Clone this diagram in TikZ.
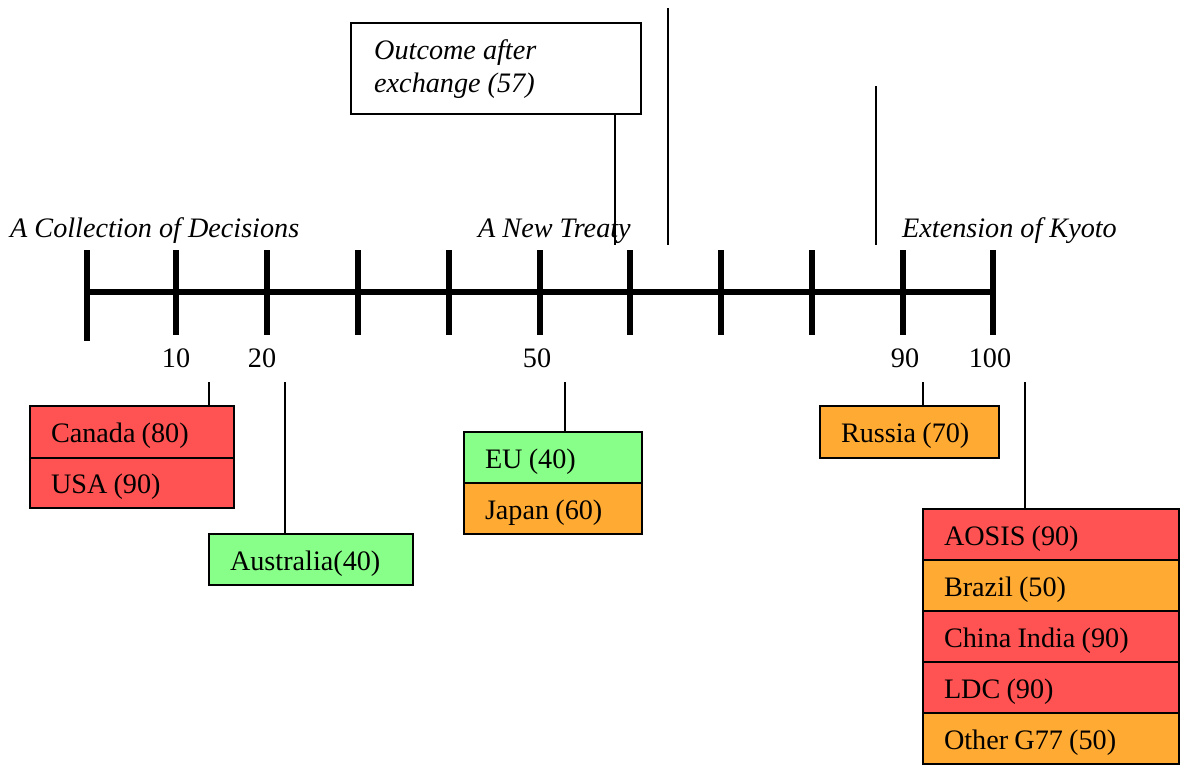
\documentclass[tikz,border=0pt]{standalone}
\usepackage{fontspec}
\setmainfont{Liberation Serif}
\definecolor{cred}{RGB}{255,82,82}
\definecolor{cgreen}{RGB}{136,255,136}
\definecolor{corange}{RGB}{255,170,51}
\newcommand{\bigfont}{\fontsize{28.2}{33}\selectfont}
\tikzset{
  box/.style={draw=black, line width=1.5pt, rectangle, anchor=north west, inner xsep=21pt, inner ysep=0pt, outer sep=0pt, align=left, minimum height=51pt, font=\bigfont, text height=21.7pt, text depth=0pt, execute at begin node={\spaceskip=6.2pt\relax}},
  conn/.style={line width=1.5pt},
  axisline/.style={line width=5.5pt},
  ticklbl/.style={font=\bigfont, inner sep=0pt},
  headlbl/.style={font=\bigfont\itshape, inner sep=0pt, anchor=base west},
}
\begin{document}
\begin{tikzpicture}[x=1pt,y=-1pt]
\useasboundingbox (0,0) rectangle (1186,766);
% axis
\draw[axisline] (87,292) -- (993,292);
\draw[axisline] (87,250) -- (87,341);
\foreach \x in {176,267,358,449,540,630,721,812,903,993}
  \draw[axisline] (\x,250) -- (\x,335);
% tick labels
\node[ticklbl] (l10) at (176,358) {10};
\node[ticklbl] (l20) at (262,358) {20};
\node[ticklbl] (l50) at (537,358) {50};
\node[ticklbl] (l90) at (905,358) {90};
\node[ticklbl] (l100) at (990,358) {100};
% headings
\node[headlbl] (h1) at (10,237) {A Collection of Decisions};
\node[headlbl] (h2) at (478,237) {A New Treaty};
\node[headlbl] (h3) at (902,237) {Extension of Kyoto};
% outcome box
\node[draw=black, line width=1.5pt, rectangle, anchor=north west, outer sep=0pt, fill=white, minimum width=290pt, minimum height=91pt] (outcome) at (351,23) {};
\node[font=\bigfont\itshape, align=left, anchor=north west, inner sep=0pt] (otext) at (374,39) {Outcome after\\exchange (57)};
\coordinate (oe) at (615,245);
\draw[conn] (outcome.south -| oe) -- (oe);
\coordinate (v1a) at (668,8);
\coordinate (v1b) at (668,245);
\draw[conn] (v1a) -- (v1b);
\coordinate (v2a) at (876,86);
\coordinate (v2b) at (876,245);
\draw[conn] (v2a) -- (v2b);
% Canada / USA
\node[box, fill=cred, text width=162pt, minimum height=52pt] (canada) at (30,406) {Canada (80)};
\node[box, fill=cred, text width=162pt, minimum height=50pt] (usa) at (canada.south west) {USA (90)};
\coordinate (c1) at (209,382);
\draw[conn] (c1) -- (c1 |- canada.north);
% Australia
\node[box, fill=cgreen, text width=162pt, minimum height=51pt] (aus) at (209,534) {Australia(40)};
\coordinate (c2) at (285,382);
\draw[conn] (c2) -- (c2 |- aus.north);
% EU / Japan
\node[box, fill=cgreen, text width=136pt, minimum height=51pt] (eu) at (464,432) {EU (40)};
\node[box, fill=corange, text width=136pt, minimum height=51pt] (japan) at (eu.south west) {Japan (60)};
\coordinate (c3) at (565,382);
\draw[conn] (c3) -- (c3 |- eu.north);
% Russia
\node[box, fill=corange, text width=137pt, minimum height=52pt] (russia) at (820,406) {Russia (70)};
\coordinate (c4) at (923,382);
\draw[conn] (c4) -- (c4 |- russia.north);
% big group
\node[box, fill=cred, text width=214pt] (aosis) at (923,509) {AOSIS (90)};
\node[box, fill=corange, text width=214pt] (brazil) at (aosis.south west) {Brazil (50)};
\node[box, fill=cred, text width=214pt] (china) at (brazil.south west) {China India (90)};
\node[box, fill=cred, text width=214pt] (ldc) at (china.south west) {LDC (90)};
\node[box, fill=corange, text width=214pt] (g77) at (ldc.south west) {Other G77 (50)};
\coordinate (c5) at (1025,382);
\draw[conn] (c5) -- (c5 |- aosis.north);
\end{tikzpicture}
\end{document}
